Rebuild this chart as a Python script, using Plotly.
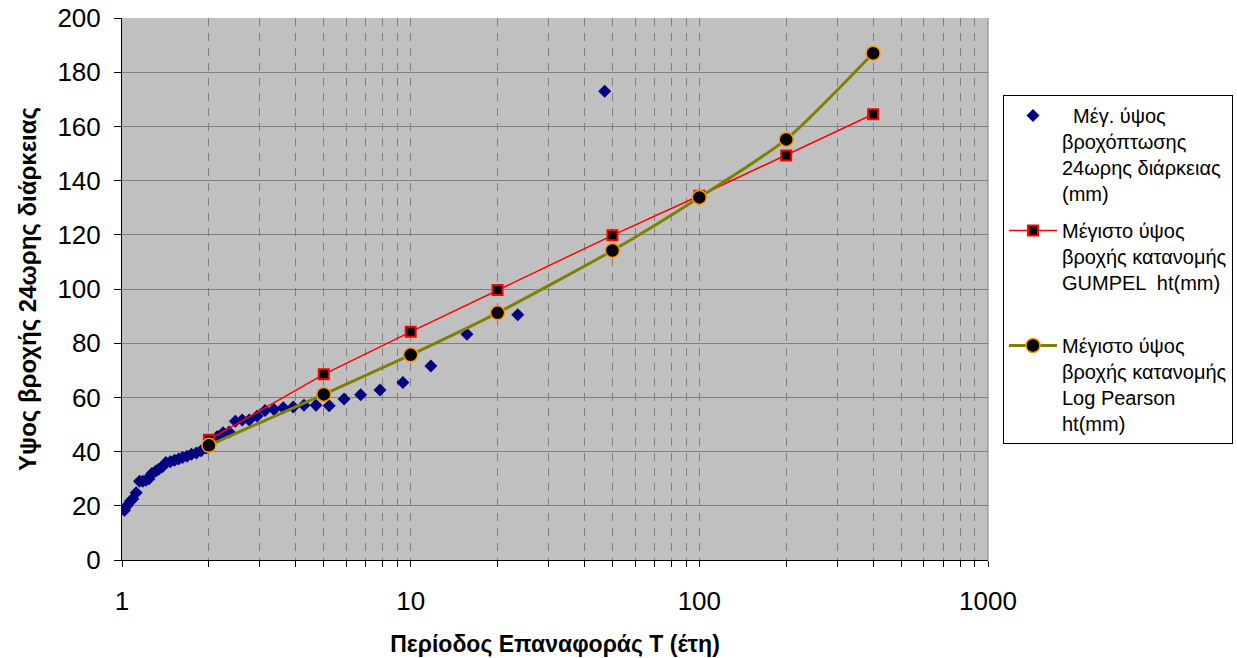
import plotly.graph_objects as go

# Observed annual maxima (plotting positions T, depth mm)
obs_T = [47.0, 23.5, 15.67, 11.75, 9.4, 7.83, 6.71, 5.88, 5.22, 4.7, 4.27, 3.92, 3.62,
         3.36, 3.13, 2.94, 2.76, 2.61, 2.47, 2.35, 2.24, 2.14, 2.04, 1.96, 1.88, 1.81,
         1.74, 1.68, 1.62, 1.57, 1.52, 1.47, 1.42, 1.38, 1.34, 1.31, 1.27, 1.24, 1.21,
         1.18, 1.15, 1.12, 1.09, 1.07, 1.04, 1.02]
obs_h = [173.0, 90.5, 83.3, 71.6, 65.5, 62.7, 61.0, 59.4, 56.9, 57.1, 57.1, 56.5, 56.2,
         55.5, 55.2, 53.1, 51.7, 51.7, 51.2, 47.2, 47.0, 45.6, 43.8, 41.3, 40.3, 39.5,
         39.0, 38.3, 37.8, 37.3, 36.8, 36.3, 36.0, 34.4, 33.5, 32.8, 31.9, 30.0, 29.4,
         29.1, 29.1, 24.8, 22.5, 21.8, 20.0, 18.4]

# Distribution estimates
ret_T = [2, 5, 10, 20, 50, 100, 200, 400]
gumbel_h = [44.4, 68.5, 84.2, 99.6, 119.8, 134.4, 149.3, 164.5]
lp3_h = [42.3, 61.1, 75.7, 91.2, 114.2, 133.8, 155.2, 187.0]

x_tickvals = [1, 10, 100, 1000]
x_ticktext = ["1", "10", "100", "1000"]
y_tickvals = [0, 20, 40, 60, 80, 100, 120, 140, 160, 180, 200]

name_obs = "\u00a0\u00a0Μέγ. ύψος<br>βροχόπτωσης<br>24ωρης διάρκειας<br>(mm)"
name_gum = "Μέγιστο ύψος<br>βροχής κατανομής<br>GUMPEL  ht(mm)<br> "
name_lp = "Μέγιστο ύψος<br>βροχής κατανομής<br>Log Pearson<br>ht(mm)"

FONT = "Arial, 'Liberation Sans', sans-serif"

fig = go.Figure()
fig.add_trace(go.Scatter(
    x=obs_T, y=obs_h, mode="markers", name=name_obs, legendgroup="a",
    marker=dict(symbol="diamond", size=10, color="#000080", line=dict(width=0)),
))
fig.add_trace(go.Scatter(
    x=ret_T, y=gumbel_h, mode="lines+markers", name=name_gum, legendgroup="b",
    line=dict(color="#FF0000", width=1.5),
    marker=dict(symbol="square", size=10, color="#000000",
                line=dict(color="#FF0000", width=2)),
))
fig.add_trace(go.Scatter(
    x=ret_T, y=lp3_h, mode="lines+markers", name=name_lp, legendgroup="c",
    line=dict(color="#808000", width=3, shape="spline", smoothing=0.6),
    marker=dict(symbol="circle", size=14, color="#000000",
                line=dict(color="#FF9900", width=1.5)),
))

minor_vals = [m * 10 ** k for k in range(3) for m in range(2, 10)]

fig.update_xaxes(
    type="log", range=[0, 3], automargin=False,
    tickvals=x_tickvals, ticktext=x_ticktext,
    showline=True, linecolor="#000000", linewidth=1,
    ticks="outside", ticklen=6, tickcolor="#000000",
    showgrid=True, gridcolor="#808080", griddash="8px,7px", gridwidth=1,
    minor=dict(tickvals=minor_vals, ticks="outside", ticklen=6, tickcolor="#000000",
               showgrid=True, gridcolor="#808080", griddash="8px,7px", gridwidth=1),
    tickfont=dict(family=FONT, size=26, color="#000000"),
    ticklabelstandoff=12,
    title=dict(text="<b>Περίοδος Επαναφοράς Τ (έτη)</b>",
               font=dict(family=FONT, size=23, color="#000000"), standoff=20),
    zeroline=False,
)
fig.update_yaxes(
    range=[0, 200], tickvals=y_tickvals, automargin=False,
    showline=True, linecolor="#000000", linewidth=1,
    ticks="outside", ticklen=7, tickcolor="#000000",
    showgrid=True, gridcolor="#808080", gridwidth=1,
    tickfont=dict(family=FONT, size=26, color="#000000"),
    ticklabelstandoff=8,
    title=dict(text="<b>Υψος βροχής 24ωρης διάρκειας</b>",
               font=dict(family=FONT, size=24, color="#000000"), standoff=14),
    zeroline=False,
)

fig.add_shape(type="line", xref="paper", yref="paper", x0=1, x1=1, y0=0, y1=1,
              line=dict(color="#808080", width=1))

fig.update_layout(
    width=1237, height=658,
    margin=dict(l=122, r=249, t=18, b=98, autoexpand=False),
    paper_bgcolor="#FFFFFF", plot_bgcolor="#C0C0C0",
    font=dict(family=FONT, color="#000000"),
    showlegend=True,
    legend=dict(
        x=1.0173, y=0.858, xanchor="left", yanchor="top",
        bgcolor="#FFFFFF", bordercolor="#000000", borderwidth=1,
        font=dict(family=FONT, size=20, color="#000000"),
        valign="top", itemwidth=48, tracegroupgap=8,
    ),
)

fig.write_html("out.html")
